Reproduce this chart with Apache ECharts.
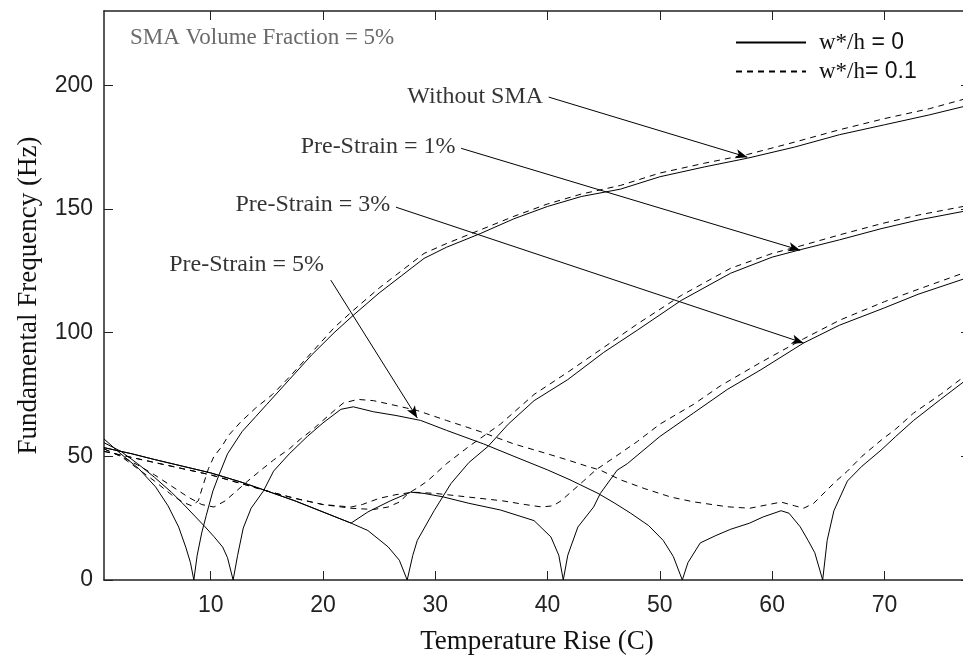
<!DOCTYPE html>
<html>
<head>
<meta charset="utf-8">
<script src="https://cdn.jsdelivr.net/npm/echarts@6/dist/echarts.min.js"></script>
<style>
  html, body { margin: 0; padding: 0; background: #fff; }
  #chart { width: 963px; height: 655px; }
</style>
</head>
<body>
<div id="chart"></div>
<script>
// tick labels
const xTicks = [10, 20, 30, 40, 50, 60, 70];
const yTicks = [0, 50, 100, 150, 200];

// w*/h = 0 (solid) and w*/h = 0.1 (dashed), [temperature rise, frequency]
const woSolid = [[0.5,57],[2,51],[3.6,45],[5.1,37.6],[6.2,30],[7.15,21.4],[7.8,13],[8.2,7],[8.5,0],[8.8,10],[9.2,19],[9.6,26],[10.2,36],[10.7,42],[11.5,51],[12.8,60],[14,66],[15,71],[17,81],[19,91],[21,100],[22.7,107],[25,116],[27,123],[29,130],[31,134.5],[34,140],[37,146],[40,151],[43,155],[46.5,158],[50,163],[54,167],[57.8,170.5],[62,175],[66,180],[70,184],[74,188],[77.6,192]];
const woDash = [[0.5,53],[2,50],[3.5,45],[5,40],[6.5,34.5],[7.5,31.5],[8.3,30],[8.9,32],[9.3,38],[9.8,45],[10.3,50],[11,54],[11.6,58.5],[12.7,64],[14,69.5],[15.5,75],[17,82],[19,92],[21,102],[22.7,109],[25,118],[27,125],[29,132],[31,136],[34,141.5],[37,147],[40,152],[43,156],[46.5,159.5],[50,164.5],[54,168.5],[57.8,172],[62,177],[66,182],[70,186.5],[74,190.5],[77.6,195]];

const p1Solid = [[0.5,53.5],[3,51],[5,48.7],[7.5,46],[10,43.3],[12.7,39.6],[15,36],[17.5,32],[20,27.5],[22.5,23],[24,20],[25.8,13.4],[26.8,8],[27.5,0],[28,10],[28.4,16],[29.9,28],[31.4,39],[33,47.5],[34.7,54],[36.5,63],[38.8,72.5],[41.8,81],[45,92],[48,101],[51.9,113],[56.3,124],[60,130.5],[62.5,133.5],[66,137.5],[69.7,142],[73,145.5],[77.6,149.5]];
const p1Dash = [[0.5,52],[3,49.5],[5,47.5],[7.5,45],[10,42.5],[12.7,39],[15,36],[17.5,33],[20,30.5],[22.5,29],[24.5,28.5],[25.8,29.5],[26.8,31.5],[27.6,35],[28.5,37.5],[29.3,40],[31,47],[33,54],[35.8,63],[38.8,75],[41.8,84],[45,94],[48,103.5],[51.9,115],[56.3,126],[60,132],[62.5,135],[66,139.5],[69.7,144],[73,147.5],[77.6,151.5]];

const p3Solid = [[0.5,53.5],[3,51],[5,48.7],[7.5,46],[10,43.3],[12.7,39.6],[15,36],[17.5,32],[20,27.5],[22.5,23],[24,27.5],[26,32],[27.8,35.5],[29,35],[30.7,33.6],[33,31],[35.8,28.3],[38.8,24],[40.3,17.4],[41,10],[41.4,0],[41.8,10],[42.7,21.4],[44.1,29.5],[44.7,35],[46.2,44.4],[47.1,47],[50,58],[53,67.5],[56,77],[59,85],[62.8,95.8],[66,103],[70,110],[73,115.5],[77.6,122.5]];
const p3Dash = [[0.5,52],[3,49.5],[5,47.5],[7.5,45],[10,42.5],[12.7,39],[15,36],[17.5,33],[20,30.5],[22.5,29.5],[23.5,30.5],[25,33],[26.5,34.5],[28,35.5],[30,35],[32,34],[34,33],[36,32],[38,30.5],[39.5,29.5],[40.5,30],[41.2,32],[42.2,36],[43.2,40],[44.3,44.5],[45.6,48.5],[48,56],[50,63],[53,71],[55.4,78.5],[59,88],[62.8,97.5],[66,105],[70,112.5],[73,117.5],[77.6,125]];

const p5Solid = [[0.5,55.5],[2,52],[3.5,47],[5,41.5],[6.5,35.5],[7.5,31],[8.66,25.5],[9.5,21.5],[10.3,17.5],[11.07,13.3],[11.5,9],[12,0],[12.4,10],[12.9,21],[13.6,29],[14.7,36],[15.6,44],[17,51],[18.6,58],[20,63.5],[21.6,69],[22.7,70],[24.5,68],[26.5,66.5],[28.7,64.5],[31,60.5],[34.3,55],[37,50],[40,44.5],[42,40.5],[44.5,35],[46,31],[47.4,27],[49,22],[50.3,16],[51.2,9.5],[52,0],[52.5,7],[53.6,15],[55,18],[56.3,20.5],[58,23],[59.2,25.5],[60.8,28],[61.5,27],[62.5,21.5],[63.2,16],[63.8,11],[64.5,0],[64.9,16],[65.5,28],[66.7,40],[68,46],[69.7,52.5],[71,58],[72.6,64.5],[75,73],[77.6,82]];
const p5Dash = [[0.5,53],[2,50],[3.5,46.5],[5,42.5],[6.5,38],[8,33.5],[9.2,30.5],[10.3,29.5],[11.3,32],[12.2,35.6],[13.3,40],[14.5,44.5],[15.6,48.5],[17,53],[18,57],[19,60.5],[20,64.5],[21,68.5],[21.8,71.5],[23.1,73],[24.5,72.5],[26.5,70.5],[28.4,68.5],[31,64.5],[34,60],[37,55],[40,51],[41.8,48.5],[43.5,46],[44.7,44.4],[46.5,40.5],[48.6,37],[51,33.5],[53,31.6],[56,29.6],[58,29],[60.8,31.5],[62,30],[62.8,29],[63.7,31],[64.8,36],[65.7,40],[66.7,44],[68,50],[69.7,56.5],[71,61],[72.6,67.5],[75,75],[77.6,84]];

// annotations: text right end, arrow tail, arrow head (data units)
const annoNames = ['Without SMA', 'Pre-Strain = 1%', 'Pre-Strain = 3%', 'Pre-Strain = 5%'];
const annoText = [[39.6,195.4],[31.8,175],[26.0,151.5],[20.1,127.5]];
const annoTail = [[40.1,195.2],[32.3,174.5],[26.5,150.7],[20.7,121.2]];
const annoHead = [[57.8,170.9],[62.5,133.3],[62.8,95.8],[28.4,65.5]];

const solidName = 'w*/h = 0';
const dashName = 'w*/h= 0.1';

const serif = '"Liberation Serif", "Times New Roman", serif';
const sans = '"Liberation Sans", Arial, sans-serif';

let chart = echarts.init(document.getElementById('chart'));

function curve(name, data, dashed) {
    return {
        type: 'line',
        name: name,
        data: data,
        symbol: 'none',
        smooth: false,
        silent: true,
        itemStyle: { color: '#000' },
        lineStyle: { color: '#000', width: 1, type: dashed ? [6, 5] : 'solid' }
    };
}

const axisCommon = {
    type: 'value',
    splitLine: { show: false },
    axisLine: { show: true, onZero: false, lineStyle: { color: '#222', width: 1.5 } },
    axisTick: { show: true, inside: true, length: 9, lineStyle: { color: '#222', width: 1 } }
};

let option = {
    animation: false,
    backgroundColor: '#fff',
    title: {
        text: 'SMA Volume Fraction = 5%',
        left: 130,
        top: 26,
        padding: 0,
        textStyle: { fontFamily: serif, fontSize: 23, fontWeight: 'normal', color: '#6a6a6a' }
    },
    legend: {
        data: [solidName, dashName],
        orient: 'vertical',
        left: 735,
        top: 31,
        padding: 0,
        itemWidth: 70,
        itemHeight: 14,
        itemGap: 6,
        selectedMode: false,
        itemStyle: { opacity: 0 },
        formatter: function (name) {
            let rest = name.replace('w*/h', '');
            return '{s|w*/h}{n|' + rest + '}';
        },
        textStyle: {
            padding: [0, 0, 0, 8],
            rich: {
                s: { fontFamily: serif, fontSize: 23, color: '#111' },
                n: { fontFamily: sans, fontSize: 23, color: '#111' }
            }
        }
    },
    grid: { left: 104, right: -7, top: 11, bottom: 75, outerBoundsMode: 'none', containLabel: false },
    xAxis: [{
        ...axisCommon,
        min: 0.5,
        max: 77.62,
        name: 'Temperature Rise (C)',
        nameLocation: 'middle',
        nameGap: 48,
        nameTextStyle: { fontFamily: serif, fontSize: 27, color: '#111' },
        axisTick: { ...axisCommon.axisTick, customValues: xTicks },
        axisLabel: { customValues: xTicks, margin: 14, fontFamily: sans, fontSize: 23, color: '#222' }
    }, {
        ...axisCommon,
        position: 'top',
        min: 0.5,
        max: 77.62,
        axisTick: { ...axisCommon.axisTick, customValues: xTicks },
        axisLabel: { show: false }
    }],
    yAxis: [{
        ...axisCommon,
        min: 0,
        max: 230,
        name: 'Fundamental Frequency (Hz)',
        nameLocation: 'middle',
        nameGap: 62,
        nameTextStyle: { fontFamily: serif, fontSize: 27, color: '#111' },
        axisTick: { ...axisCommon.axisTick, customValues: yTicks },
        axisLabel: { customValues: yTicks, margin: 11, fontFamily: sans, fontSize: 23, color: '#222' }
    }, {
        ...axisCommon,
        position: 'right',
        min: 0,
        max: 230,
        axisTick: { ...axisCommon.axisTick, customValues: yTicks },
        axisLabel: { show: false }
    }],
    series: [
        curve(solidName, woSolid, false),
        curve(dashName, woDash, true),
        curve(solidName, p1Solid, false),
        curve(dashName, p1Dash, true),
        curve(solidName, p3Solid, false),
        curve(dashName, p3Dash, true),
        curve(solidName, p5Solid, false),
        curve(dashName, p5Dash, true),
        {
            type: 'scatter',
            name: 'notes',
            silent: true,
            symbolSize: 0,
            data: annoNames.map((n, i) => ({ name: n, value: annoText[i] })),
            label: {
                show: true,
                position: 'left',
                distance: 0,
                formatter: '{b}',
                fontFamily: serif,
                fontSize: 24,
                color: '#000'
            },
            markLine: {
                silent: true,
                symbol: ['none', 'arrow'],
                symbolSize: [7, 12],
                label: { show: false },
                lineStyle: { color: '#000', width: 1, type: 'solid' },
                emphasis: { disabled: true },
                data: annoNames.map((n, i) => [{ coord: annoTail[i] }, { coord: annoHead[i] }])
            }
        }
    ]
};
chart.setOption(option);
</script>
</body>
</html>
